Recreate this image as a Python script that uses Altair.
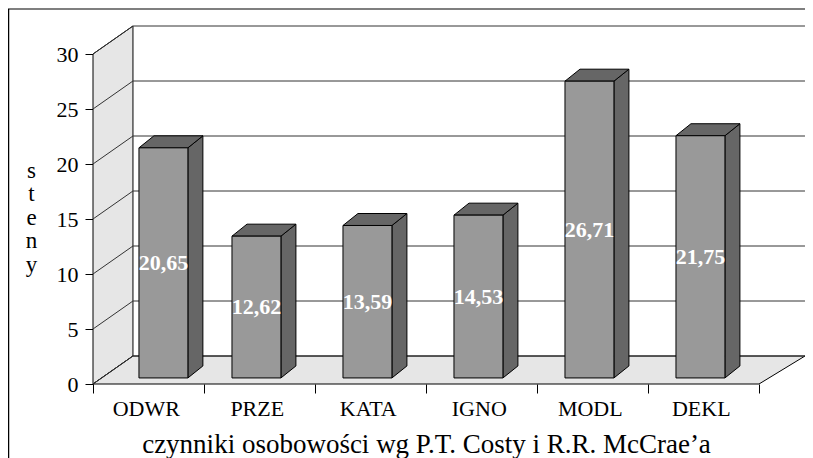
import altair as alt
import pandas as pd

# ---- data ----
categories = ["ODWR", "PRZE", "KATA", "IGNO", "MODL", "DEKL"]
values = [20.65, 12.62, 13.59, 14.53, 26.71, 21.75]
y_ticks = [0, 5, 10, 15, 20, 25, 30]
x_title = "czynniki osobowości wg P.T. Costy i R.R. McCrae’a"
y_title = "steny"

# ---- layout (3-D look) ----
PLOT_W, PLOT_H = 712, 358
CAT_PX, UNIT_PX = 111, 11
X_MAX = PLOT_W / CAT_PX
Y_MAX = PLOT_H / UNIT_PX
WALL_DX, WALL_DY = 0.36, 2.545
N = len(categories)
BAR_LEFT, BAR_W = 0.252, 0.441
BAR_DX, BAR_DY = 0.135, 1.09
BAR_BASE, BAR_LIFT = 0.55, 0.82
FIRST_SHIFT = 0.162
FONT = "Liberation Serif"

xs = alt.Scale(domain=[0, X_MAX], nice=False, zero=False)
ys = alt.Scale(domain=[0, Y_MAX], nice=False, zero=False)

front, side, topf = [], [], []
for i, (c, v) in enumerate(zip(categories, values)):
    xl = i + BAR_LEFT + (FIRST_SHIFT if i == 0 else 0)
    xr = xl + BAR_W
    top = v + BAR_LIFT
    front.append(dict(cat=c, xl=xl, xr=xr, lo=BAR_BASE, hi=top,
                      xc=(xl + xr) / 2, ym=(BAR_BASE + top) / 2,
                      label=f"{v:.2f}".replace(".", ",")))
    side.append(dict(cat=c, x=xr, lo=BAR_BASE, hi=top))
    side.append(dict(cat=c, x=xr + BAR_DX, lo=BAR_BASE + BAR_DY, hi=top + BAR_DY))
    topf.append(dict(cat=c, y=top, xa=xl, xb=xr))
    topf.append(dict(cat=c, y=top + BAR_DY, xa=xl + BAR_DX, xb=xr + BAR_DX))
front, side, topf = pd.DataFrame(front), pd.DataFrame(side), pd.DataFrame(topf)

wall = pd.DataFrame(dict(x=[0, WALL_DX], lo=[0, WALL_DY],
                         hi=[y_ticks[-1], y_ticks[-1] + WALL_DY]))
floor = pd.DataFrame(dict(y=[0, WALL_DY], xa=[0, WALL_DX], xb=[N, X_MAX]))
grid_rows = []
for t in y_ticks:
    grid_rows.append(dict(x=WALL_DX, x2=X_MAX, y=t + WALL_DY, y2=t + WALL_DY))
    grid_rows.append(dict(x=0, x2=WALL_DX, y=t, y2=t + WALL_DY))
grid = pd.DataFrame(grid_rows)
catlab = pd.DataFrame(dict(cat=categories, xc=[i + 0.48 for i in range(N)]))

x_axis = alt.Axis(values=list(range(N + 1)), labels=False, domain=False, grid=False,
                  tickSize=9, tickColor="black", tickWidth=1,
                  title=x_title, titleFont=FONT, titleFontSize=27,
                  titleFontWeight="normal", titleColor="black",
                  titleX=333, titleY=68, titleAlign="center",
                  titleBaseline="alphabetic")
y_axis = alt.Axis(values=y_ticks, domain=False, grid=False, tickSize=8,
                  tickColor="black", tickWidth=1, labelFont=FONT,
                  labelFontSize=22, labelColor="black", labelPadding=7,
                  title=list(y_title), titleFont=FONT, titleFontSize=23,
                  titleFontWeight="normal", titleColor="black", titleAngle=0,
                  titleX=-62, titleY=151, titleAlign="center",
                  titleBaseline="alphabetic", titleLineHeight=23.5)


def X(f):
    return alt.X(f, scale=xs, axis=x_axis)


def Y(f):
    return alt.Y(f, scale=ys, axis=y_axis)


wall_l = alt.Chart(wall).mark_area(fill="#e6e6e6", stroke="black", strokeWidth=1).encode(
    x=X("x:Q"), y=Y("lo:Q"), y2="hi:Q")
floor_l = alt.Chart(floor).mark_area(orient="horizontal", fill="#e6e6e6",
                                     stroke="black", strokeWidth=1).encode(
    y=Y("y:Q"), x=X("xa:Q"), x2="xb:Q")
grid_l = alt.Chart(grid).mark_rule(color="#333333", strokeWidth=1).encode(
    x=X("x:Q"), x2="x2:Q", y=Y("y:Q"), y2="y2:Q")
side_l = alt.Chart(side).mark_area(fill="#666666", stroke="black", strokeWidth=1).encode(
    x=X("x:Q"), y=Y("lo:Q"), y2="hi:Q", detail="cat:N")
top_l = alt.Chart(topf).mark_area(orient="horizontal", fill="#666666",
                                  stroke="black", strokeWidth=1).encode(
    y=Y("y:Q"), x=X("xa:Q"), x2="xb:Q", detail="cat:N")
front_l = alt.Chart(front).mark_rect(fill="#999999", stroke="black", strokeWidth=1).encode(
    x=X("xl:Q"), x2="xr:Q", y=Y("lo:Q"), y2="hi:Q")
val_l = alt.Chart(front).mark_text(font=FONT, fontSize=22, fontWeight="bold",
                                   color="white", baseline="middle").encode(
    x=X("xc:Q"), y=Y("ym:Q"), text="label:N")
cat_l = alt.Chart(catlab).mark_text(font=FONT, fontSize=22, color="black",
                                    baseline="alphabetic").encode(
    x=X("xc:Q"), y=alt.value(390), text="cat:N")
frame_df = pd.DataFrame(dict(k=[0]))
frame_v = alt.Chart(frame_df).mark_rule(color="black", strokeWidth=1.5).encode(
    x=alt.value(-84.5), y=alt.value(-17), y2=alt.value(440))
frame_h = alt.Chart(frame_df).mark_rule(color="black", strokeWidth=1.2).encode(
    x=alt.value(-85), x2=alt.value(712), y=alt.value(-17))

chart = alt.layer(wall_l, floor_l, grid_l, side_l, top_l, front_l, val_l, cat_l,
                  frame_v, frame_h).properties(
    width=PLOT_W, height=PLOT_H, autosize="none",
    padding={"left": 85, "top": 18, "right": 0, "bottom": 74},
    background="white",
).configure_view(stroke=None)

chart.save("out.html", embed_options={"renderer": "svg", "actions": False})
